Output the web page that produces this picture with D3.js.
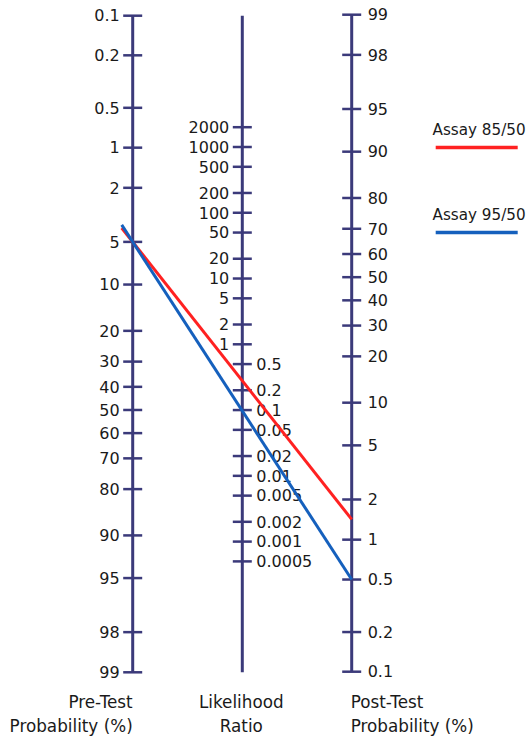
<!DOCTYPE html>
<html><head><meta charset="utf-8">
<script src="https://cdn.jsdelivr.net/npm/d3@7"></script>
<style>body{margin:0;background:#fff}svg{display:block}text{font-family:"DejaVu Sans",sans-serif;fill:#1a1a1a}</style>
</head><body>
<script>
// ---- data ----
const preTicks  = [0.1,0.2,0.5,1,2,5,10,20,30,40,50,60,70,80,90,95,98,99];
const postTicks = [99,98,95,90,80,70,60,50,40,30,20,10,5,2,1,0.5,0.2,0.1];
const lrTicksHigh = [2000,1000,500,200,100,50,20,10,5,2,1];
const lrTicksLow  = [0.5,0.2,0.1,0.05,0.02,0.01,0.005,0.002,0.001,0.0005];
const seriesNames = ["Assay 85/50","Assay 95/50"];
const seriesColors = ["#ff2121","#1560bd"];
const preTest  = [5, 5];      // % pre-test probability
const postTest = [1.42, 0.5]; // % post-test probability

const W=529,H=737;
const svg=d3.select("body").append("svg").attr("width",W).attr("height",H);
const axisColor="#3b3a7a";
const logit=p=>Math.log((p/100)/(1-p/100));
const xL=132.7, xM=242.3, xR=351.7;

const yPre = d3.scaleLinear().domain([logit(0.1),logit(99)]).range([15.7,672.3]);
const yPost= d3.scaleLinear().domain([logit(0.1),logit(99)]).range([671.7,14.7]);
const yLR  = d3.scaleLog().domain([1,1000]).range([344.3,147]);

function axisLine(x,y1,y2){
  svg.append("line").attr("x1",x).attr("x2",x).attr("y1",y1).attr("y2",y2)
    .attr("stroke",axisColor).attr("stroke-width",3);
}
axisLine(xL,yPre(logit(0.1)),yPre(logit(99)));
axisLine(xM,15.7,672.3);
axisLine(xR,yPost(logit(99)),yPost(logit(0.1)));

const fs=16;
function tick(x,y){
  svg.append("line").attr("x1",x-9.5).attr("x2",x+9.5).attr("y1",y).attr("y2",y).attr("stroke",axisColor).attr("stroke-width",2.5);
}
preTicks.forEach(v=>{
  const y=yPre(logit(v)); tick(xL,y);
  svg.append("text").attr("x",xL-13).attr("y",y).attr("dy","0.36em").attr("text-anchor","end").attr("font-size",fs).text(v);
});
postTicks.forEach(v=>{
  const y=yPost(logit(v)); tick(xR,y);
  svg.append("text").attr("x",xR+16).attr("y",y).attr("dy","0.36em").attr("text-anchor","start").attr("font-size",fs).text(v);
});
lrTicksHigh.forEach(v=>{
  const y=yLR(v); tick(xM,y);
  svg.append("text").attr("x",xM-13).attr("y",y).attr("dy","0.36em").attr("text-anchor","end").attr("font-size",fs).text(v);
});
lrTicksLow.forEach(v=>{
  const y=yLR(v); tick(xM,y);
  svg.append("text").attr("x",xM+14).attr("y",y).attr("dy","0.36em").attr("text-anchor","start").attr("font-size",fs).text(v);
});

// series lines
preTest.forEach((p,i)=>{
  const y1=yPre(logit(p)), y2=yPost(logit(postTest[i]));
  const slope=(y2-y1)/(xR-xL);
  const ext=11;
  svg.append("line").attr("x1",xL-ext).attr("y1",y1-slope*ext).attr("x2",xR).attr("y2",y2)
    .attr("stroke",seriesColors[i]).attr("stroke-width",3);
});

// titles
const tfs=16.8;
const t1=svg.append("text").attr("text-anchor","end").attr("font-size",tfs);
t1.append("tspan").attr("x",xL).attr("y",708).text("Pre-Test");
t1.append("tspan").attr("x",xL).attr("y",732).text("Probability (%)");
const t2=svg.append("text").attr("text-anchor","middle").attr("font-size",tfs);
t2.append("tspan").attr("x",xM-1).attr("y",708).text("Likelihood");
t2.append("tspan").attr("x",xM-1).attr("y",732).text("Ratio");
const t3=svg.append("text").attr("text-anchor","start").attr("font-size",tfs);
t3.append("tspan").attr("x",xR-1).attr("y",708).text("Post-Test");
t3.append("tspan").attr("x",xR-1).attr("y",732).text("Probability (%)");

// legend
const legY=[135,220];
seriesNames.forEach((n,i)=>{
  svg.append("text").attr("x",432.5).attr("y",legY[i]).attr("font-size",15.2).text(n);
  svg.append("line").attr("x1",435.7).attr("x2",517.7).attr("y1",legY[i]+12.5).attr("y2",legY[i]+12.5)
    .attr("stroke",seriesColors[i]).attr("stroke-width",3.5);
});
</script>
</body></html>
